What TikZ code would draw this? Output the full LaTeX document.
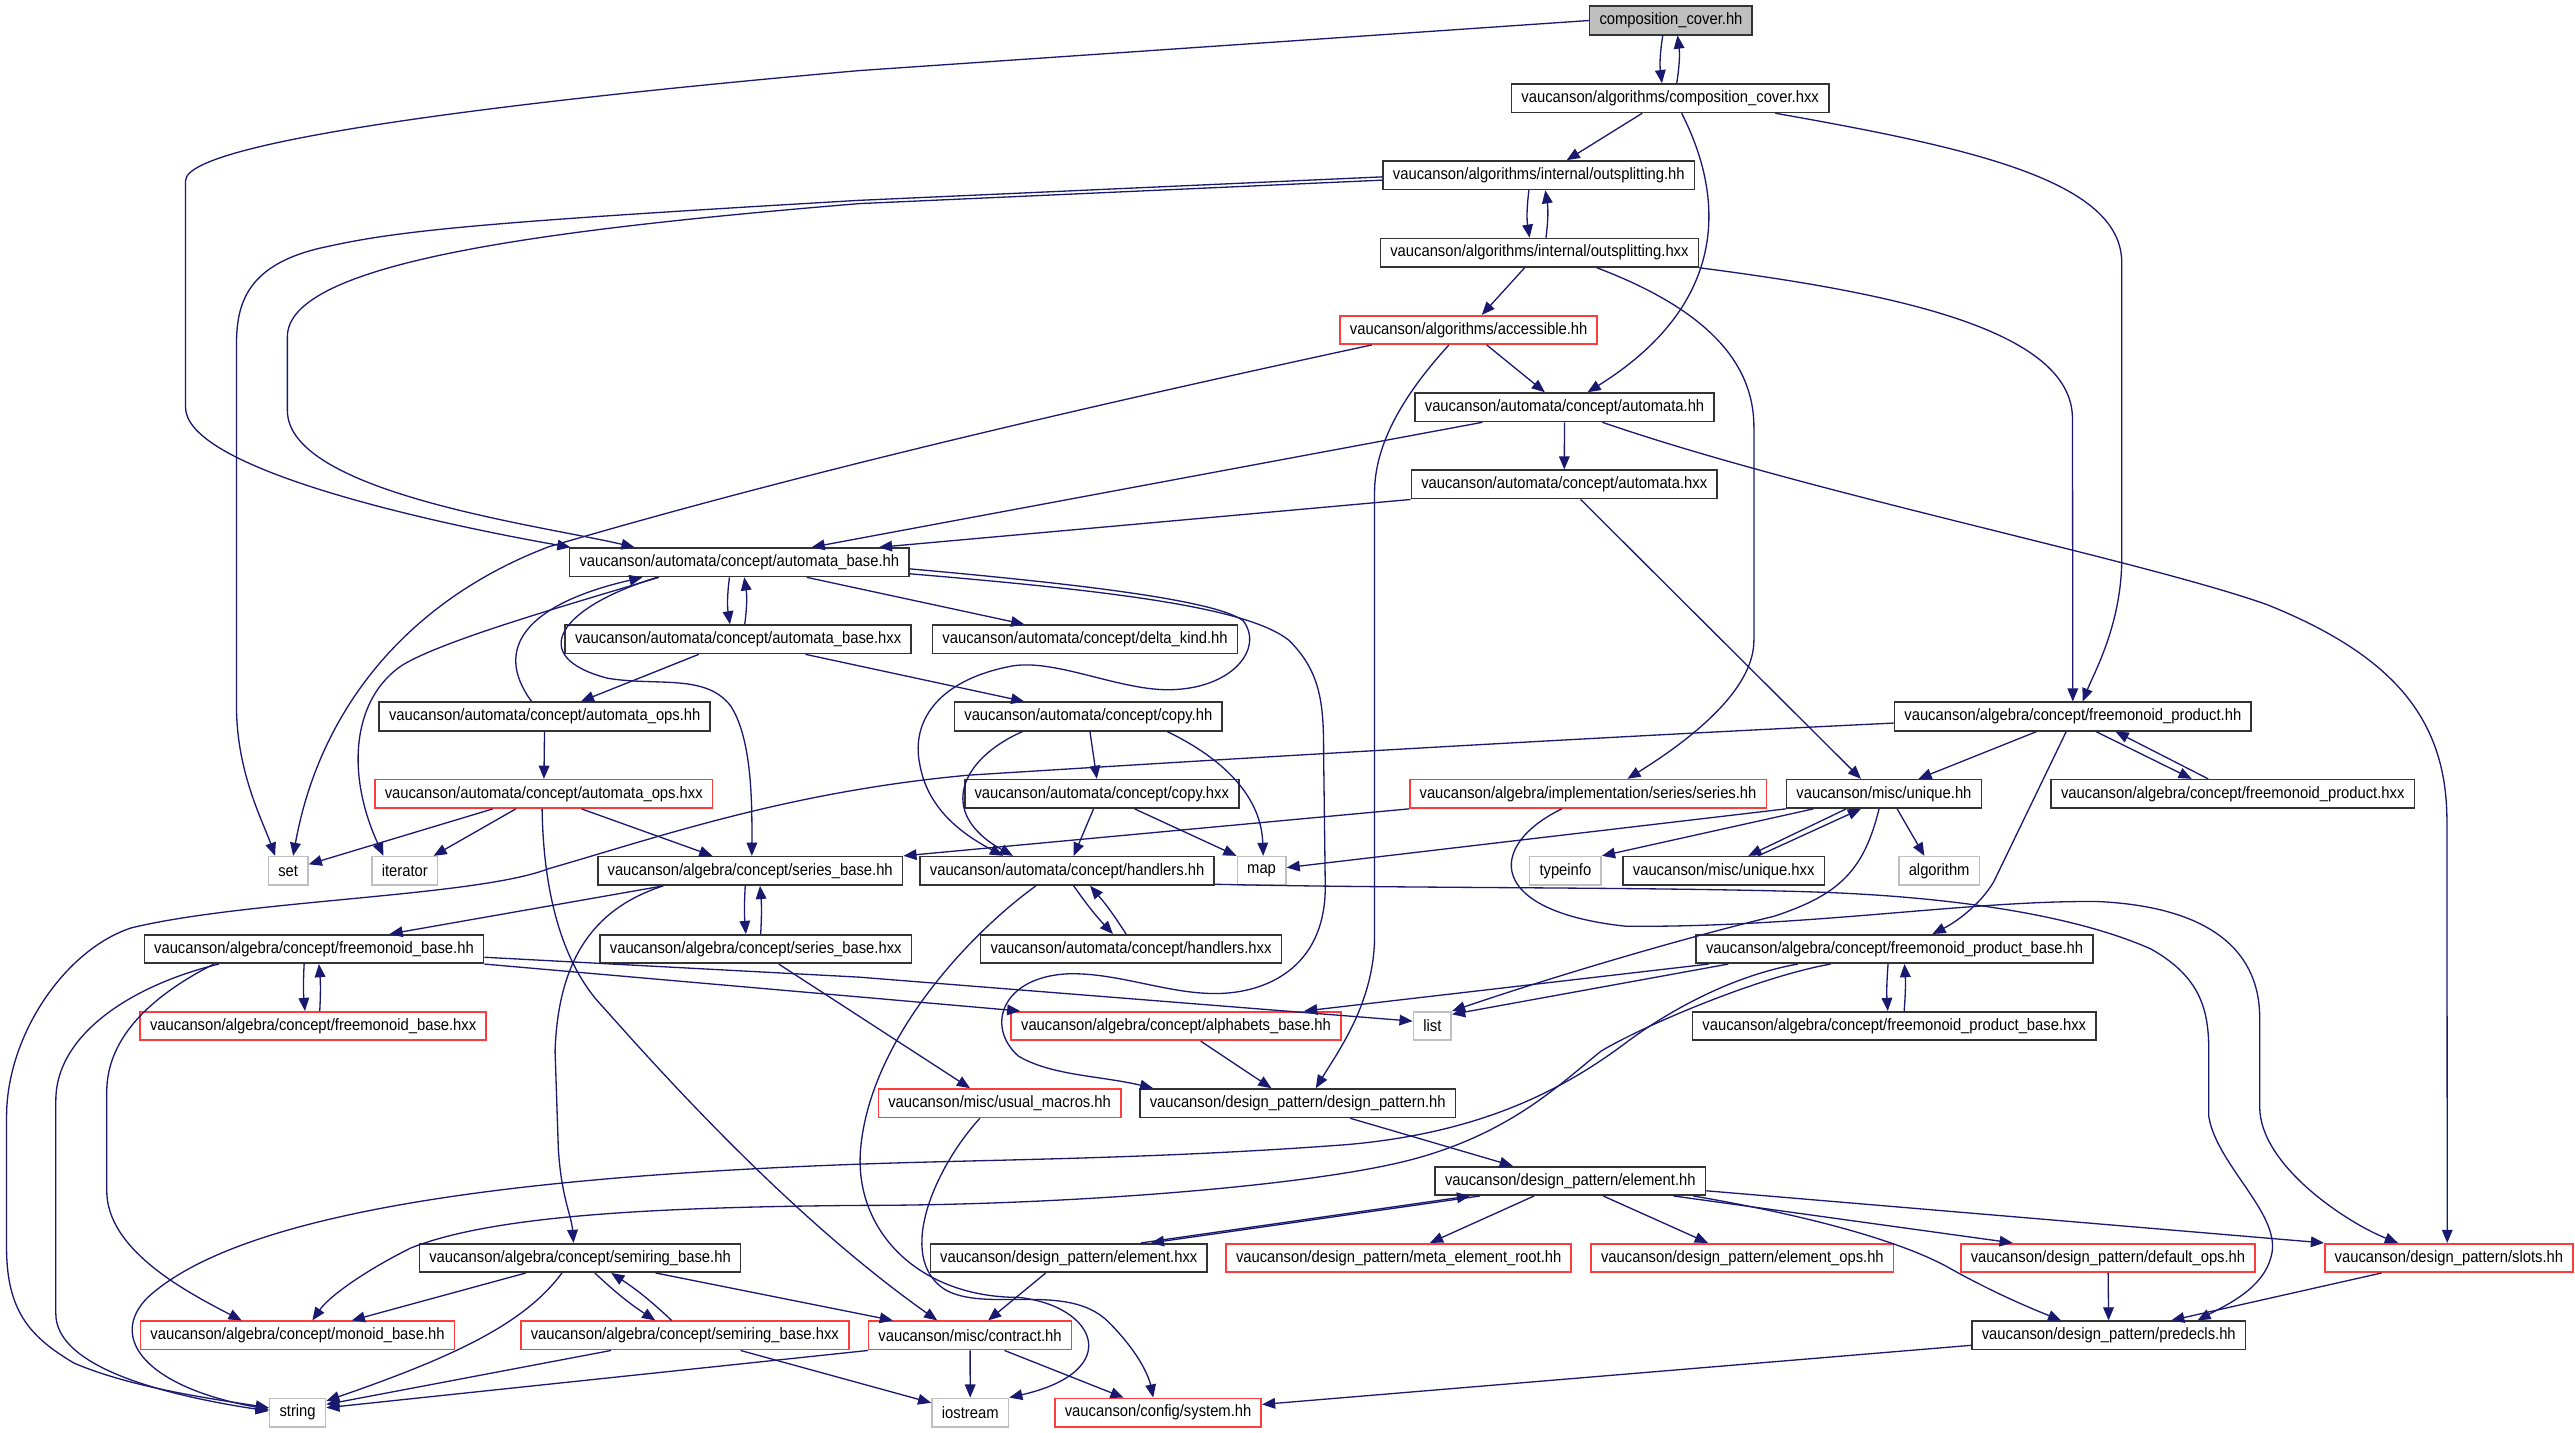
\documentclass[tikz,border=0pt]{standalone}
\usepackage{fontspec}
\usetikzlibrary{arrows.meta,graphs}
\newfontfamily\dotfont{Liberation Sans}[FakeStretch=0.9]
\definecolor{incblue}{RGB}{25,25,112}
\definecolor{nodered}{RGB}{255,60,60}
\definecolor{extgray}{RGB}{191,191,191}
\definecolor{rootgray}{RGB}{191,191,191}
\tikzset{
    >={Triangle[length=8pt,width=6.5pt]},
    hdrbox/.style={draw=black!80, line width=1pt, fill=white, font=\dotfont\fontsize{10}{12}\selectfont,
        inner xsep=6pt, inner ysep=0pt, minimum height=17.3pt},
    redbox/.style={hdrbox, draw=nodered},
    sysbox/.style={hdrbox, draw=extgray},
    rootbox/.style={hdrbox, fill=rootgray},
    inc/.style={->, draw=incblue, line width=0.8pt},
    pairbend/.style={bend right=8},
}

\begin{document}
\begin{tikzpicture}[x=1pt,y=-1pt]
    \useasboundingbox (0,0) rectangle (1568,872);

    \node[rootbox] (cover) at (1017.5,12.5) {composition\_cover.hh};
    \node[hdrbox] (coverx) at (1017,59.8) {vaucanson/algorithms/composition\_cover.hxx};
    \node[hdrbox] (outsplit) at (937,106.7) {vaucanson/algorithms/internal/outsplitting.hh};
    \node[hdrbox] (outsplitx) at (937.4,153.9) {vaucanson/algorithms/internal/outsplitting.hxx};
    \node[redbox] (access) at (894.3,200.9) {vaucanson/algorithms/accessible.hh};
    \node[hdrbox] (automata) at (952.7,248) {vaucanson/automata/concept/automata.hh};
    \node[hdrbox] (automatax) at (952.5,295) {vaucanson/automata/concept/automata.hxx};
    \node[hdrbox] (autobase) at (450.2,342.4) {vaucanson/automata/concept/automata\_base.hh};
    \node[hdrbox] (autobasex) at (449.5,389.3) {vaucanson/automata/concept/automata\_base.hxx};
    \node[hdrbox] (deltakind) at (660.7,389.3) {vaucanson/automata/concept/delta\_kind.hh};
    \node[hdrbox] (autoops) at (331.7,436.3) {vaucanson/automata/concept/automata\_ops.hh};
    \node[hdrbox] (copy) at (662.7,436.3) {vaucanson/automata/concept/copy.hh};
    \node[hdrbox] (fmprod) at (1262.2,436.3) {vaucanson/algebra/concept/freemonoid\_product.hh};
    \node[redbox] (autoopsx) at (331.1,483.4) {vaucanson/automata/concept/automata\_ops.hxx};
    \node[hdrbox] (copyx) at (670.9,483.4) {vaucanson/automata/concept/copy.hxx};
    \node[redbox] (series) at (967,483.4) {vaucanson/algebra/implementation/series/series.hh};
    \node[hdrbox] (unique) at (1147.2,483.4) {vaucanson/misc/unique.hh};
    \node[hdrbox] (fmprodx) at (1359.6,483.4) {vaucanson/algebra/concept/freemonoid\_product.hxx};
    \node[sysbox] (stdset) at (175.5,530.3) {set};
    \node[sysbox] (stditer) at (246.5,530.3) {iterator};
    \node[hdrbox] (seriesbase) at (456.8,530.3) {vaucanson/algebra/concept/series\_base.hh};
    \node[hdrbox] (handlers) at (649.8,530.3) {vaucanson/automata/concept/handlers.hh};
    \node[sysbox] (stdmap) at (768.2,530.3) {map};
    \node[sysbox] (stdtypeinfo) at (953.2,530.3) {typeinfo};
    \node[hdrbox] (uniquex) at (1049.6,530.3) {vaucanson/misc/unique.hxx};
    \node[sysbox] (stdalgo) at (1180.8,530.3) {algorithm};
    \node[hdrbox] (fmbase) at (191.2,577.9) {vaucanson/algebra/concept/freemonoid\_base.hh};
    \node[hdrbox] (seriesbasex) at (460.2,577.9) {vaucanson/algebra/concept/series\_base.hxx};
    \node[hdrbox] (handlersx) at (688.7,577.9) {vaucanson/automata/concept/handlers.hxx};
    \node[hdrbox] (fmprodbase) at (1153.7,577.9) {vaucanson/algebra/concept/freemonoid\_product\_base.hh};
    \node[redbox] (fmbasex) at (190.7,624.8) {vaucanson/algebra/concept/freemonoid\_base.hxx};
    \node[redbox] (alphabets) at (716.1,624.8) {vaucanson/algebra/concept/alphabets\_base.hh};
    \node[sysbox] (stdlist) at (872.2,624.8) {list};
    \node[hdrbox] (fmprodbasex) at (1153.5,624.8) {vaucanson/algebra/concept/freemonoid\_product\_base.hxx};
    \node[redbox] (macros) at (608.7,671.8) {vaucanson/misc/usual\_macros.hh};
    \node[hdrbox] (dpattern) at (790.2,671.8) {vaucanson/design\_pattern/design\_pattern.hh};
    \node[hdrbox] (element) at (956.2,719.1) {vaucanson/design\_pattern/element.hh};
    \node[hdrbox] (semiring) at (353.2,766) {vaucanson/algebra/concept/semiring\_base.hh};
    \node[hdrbox] (elementx) at (650.8,766) {vaucanson/design\_pattern/element.hxx};
    \node[redbox] (metaroot) at (851.7,766) {vaucanson/design\_pattern/meta\_element\_root.hh};
    \node[redbox] (elemops) at (1061,766) {vaucanson/design\_pattern/element\_ops.hh};
    \node[redbox] (defops) at (1283.6,766) {vaucanson/design\_pattern/default\_ops.hh};
    \node[redbox] (slots) at (1491.2,766) {vaucanson/design\_pattern/slots.hh};
    \node[redbox] (monoid) at (181.2,813.2) {vaucanson/algebra/concept/monoid\_base.hh};
    \node[redbox] (semiringx) at (417,813.2) {vaucanson/algebra/concept/semiring\_base.hxx};
    \node[redbox] (contract) at (590.7,813.2) {vaucanson/misc/contract.hh};
    \node[hdrbox] (predecls) at (1284.1,813.2) {vaucanson/design\_pattern/predecls.hh};
    \node[sysbox] (stdstring) at (181.2,860.2) {string};
    \node[sysbox] (stdiostream) at (590.8,860.2) {iostream};
    \node[redbox] (system) at (705.2,860.2) {vaucanson/config/system.hh};

    \graph[use existing nodes, edges=inc] {
        automata -> automatax;
        autoops -> autoopsx;
        contract -> stdiostream;
        defops -> predecls;
    };

    \draw[inc] ([xshift=-5pt]cover.south) to[pairbend] ([xshift=-5pt]coverx.north);
    \draw[inc] ([xshift=4pt]coverx.north) to[pairbend] ([xshift=4pt]cover.south);
    \draw[inc] (cover.west) -- (523,43) .. controls (330,60) and (113,85) .. (113,110) -- (113,248)
        .. controls (113,290) and (300,325) .. ([xshift=1pt]autobase.north west);

    \draw[inc] ([xshift=-17pt]coverx.south) -- ([xshift=17pt]outsplit.north);
    \draw[inc] ([xshift=7pt]coverx.south) .. controls (1055,130) and (1045,190) .. ([xshift=14pt]automata.north);
    \draw[inc] ([xshift=64pt]coverx.south) .. controls (1200,90) and (1292,110) .. (1292,160) -- (1292,340)
        .. controls (1292,380) and (1275,410) .. ([xshift=6pt]fmprod.north);

    \draw[inc] ([xshift=-6pt]outsplit.south) to[pairbend] ([xshift=-6pt]outsplitx.north);
    \draw[inc] ([xshift=4pt]outsplitx.north) to[pairbend] ([xshift=4pt]outsplit.south);
    \draw[inc] ([yshift=-1pt]outsplit.west) -- (523,122) .. controls (300,135) and (245,140) .. (200,150)
        .. controls (150,160) and (144,185) .. (144,210) -- (144,430)
        .. controls (144,470) and (160,500) .. ([xshift=-8pt]stdset.north);
    \draw[inc] ([yshift=-3pt]outsplit.west) -- (523,124) .. controls (330,140) and (175,160) .. (175,205) -- (175,250)
        .. controls (175,300) and (330,320) .. ([xshift=40pt]autobase.north west);

    \draw[inc] ([xshift=-9pt]outsplitx.south) -- ([xshift=8pt]access.north);
    \draw[inc] ([xshift=35pt]outsplitx.south) .. controls (1030,185) and (1068,215) .. (1068,260) -- (1068,390)
        .. controls (1068,420) and (1030,450) .. ([xshift=24pt]series.north);
    \draw[inc] (outsplitx.south east) .. controls (1150,178) and (1262,200) .. (1262,255) -- (fmprod.north);

    \draw[inc] ([xshift=11pt]access.south) -- ([xshift=-12pt]automata.north);
    \draw[inc] ([xshift=-59pt]access.south) .. controls (650,250) and (480,290) .. (334,333)
        .. controls (250,365) and (195,430) .. ([xshift=3pt]stdset.north);
    \draw[inc] ([xshift=-12pt]access.south) .. controls (855,240) and (837,270) .. (837,300) -- (837,570)
        .. controls (837,610) and (815,640) .. ([xshift=11pt]dpattern.north);

    \draw[inc] ([xshift=-50pt]automata.south) -- ([xshift=44pt]autobase.north);
    \draw[inc] ([xshift=23pt]automata.south) .. controls (1100,300) and (1300,340) .. (1380,368)
        .. controls (1460,400) and (1490,440) .. (1490,500) -- ([xshift=-1pt]slots.north);
    \draw[inc] (automatax.south west) -- ([xshift=85pt]autobase.north);
    \draw[inc] ([xshift=10pt]automatax.south) -- ([xshift=-14pt]unique.north);

    \draw[inc] ([xshift=-6pt]autobase.south) to[pairbend] ([xshift=-5pt]autobasex.north);
    \draw[inc] ([xshift=4pt]autobasex.north) to[pairbend] ([xshift=3pt]autobase.south);
    \draw[inc] ([xshift=41pt]autobase.south) -- ([xshift=-37pt]deltakind.north);
    \draw[inc] ([xshift=-49pt]autobase.south) .. controls (340,370) and (270,390) .. (245,405)
        .. controls (215,425) and (210,470) .. ([xshift=-13pt]stditer.north);
    \draw[inc] ([xshift=-50pt]autobase.south) .. controls (340,370) and (320,400) .. (370,413)
        .. controls (400,418) and (430,410) .. (445,430)
        .. controls (458,450) and (458,490) .. ([xshift=1pt]seriesbase.north);
    \draw[inc] ([yshift=-4pt]autobase.east) .. controls (650,355) and (740,365) .. (757,378)
        .. controls (770,395) and (750,420) .. (711,420) .. controls (680,420) and (640,400) .. (614,406)
        .. controls (570,415) and (555,440) .. (560,465)
        .. controls (565,495) and (590,510) .. ([xshift=-39pt]handlers.north);
    \draw[inc] ([yshift=-7pt]autobase.east) .. controls (680,360) and (760,370) .. (785,390)
        .. controls (805,410) and (806,430) .. (806,460) -- (807,540)
        .. controls (807,590) and (770,605) .. (740,605) .. controls (710,605) and (680,592) .. (650,593)
        .. controls (610,595) and (600,625) .. (620,643)
        .. controls (640,655) and (670,655) .. ([xshift=-88pt]dpattern.north);

    \draw[inc] ([xshift=-24pt]autobasex.south) -- ([xshift=22pt]autoops.north);
    \draw[inc] ([xshift=41pt]autobasex.south) -- ([xshift=-39pt]copy.north);
    \draw[inc] ([xshift=-8pt]autoops.north) .. controls (300,395) and (320,368) .. ([xshift=-59pt]autobase.south);

    \draw[inc] ([xshift=1pt]copy.south) -- ([xshift=-3pt]copyx.north);
    \draw[inc] ([xshift=48pt]copy.south) .. controls (745,462) and (768,485) .. ([xshift=1pt]stdmap.north);
    \draw[inc] ([xshift=-40pt]copy.south) .. controls (585,462) and (570,495) .. ([xshift=-33pt]handlers.north);
    \draw[inc] ([xshift=-5pt]copyx.south) -- ([xshift=4pt]handlers.north);
    \draw[inc] ([xshift=20pt]copyx.south) -- (stdmap.north west);

    \draw[inc] ([xshift=4pt]handlers.south) to[bend right=4] ([xshift=-11pt]handlersx.north);
    \draw[inc] ([xshift=-3pt]handlersx.north) to[bend right=4] ([xshift=14pt]handlers.south);
    \draw[inc] ([xshift=-19pt]handlers.south) .. controls (595,565) and (530,630) .. (524,700)
        .. controls (520,750) and (560,790) .. (620,790)
        .. controls (668,795) and (685,835) .. (stdiostream.north east);
    \draw[inc] ([yshift=1pt]handlers.south east) .. controls (850,541) and (1000,540) .. (1100,543)
        .. controls (1200,546) and (1270,560) .. (1310,578) .. controls (1340,595) and (1345,615) .. (1345,640)
        -- (1345,680) .. controls (1350,710) and (1390,740) .. (1383,765)
        .. controls (1378,785) and (1355,795) .. ([xshift=54pt]predecls.north);

    \draw[inc] ([xshift=-12pt]macros.south) .. controls (570,710) and (545,765) .. (575,785)
        .. controls (600,800) and (650,780) .. (675,805)
        .. controls (695,825) and (700,840) .. ([xshift=-3pt]system.north);

    \draw[inc] (unique.south west) -- ([yshift=2pt]stdmap.east);
    \draw[inc] ([xshift=-43pt]unique.south) -- (stdtypeinfo.north east);
    \draw[inc] ([xshift=-23pt]unique.south) -- ([xshift=15pt]uniquex.north);
    \draw[inc] ([xshift=21pt]uniquex.north) -- ([xshift=-14pt]unique.south);
    \draw[inc] ([xshift=8pt]unique.south) -- ([xshift=-9pt]stdalgo.north);
    \draw[inc] ([xshift=-3pt]unique.south) .. controls (1135,530) and (1120,545) .. (1080,558)
        .. controls (1010,575) and (930,600) .. (stdlist.north east);

    \draw[inc] ([xshift=-22pt]fmprod.south) -- ([xshift=21pt]unique.north);
    \draw[inc] ([xshift=14pt]fmprod.south) -- ([xshift=-25pt]fmprodx.north);
    \draw[inc] ([xshift=-15pt]fmprodx.north) -- ([xshift=26pt]fmprod.south);
    \draw[inc] ([xshift=-4pt]fmprod.south) -- (1214,537) .. controls (1205,552) and (1190,562) .. ([xshift=23pt]fmprodbase.north);
    \draw[inc] ([yshift=-4pt]fmprod.west) .. controls (950,450) and (750,462) .. (590,472)
        .. controls (480,482) and (400,510) .. (334,529) .. controls (290,546) and (150,548) .. (80,565)
        .. controls (40,578) and (4,630) .. (4,680) -- (4,760)
        .. controls (4,800) and (20,815) .. (45,830)
        .. controls (80,845) and (130,852) .. ([yshift=3pt]stdstring.west);

    \draw[inc] (series.south west) -- (seriesbase.north east);
    \draw[inc] ([xshift=-16pt]series.south) .. controls (905,515) and (905,555) .. (990,564)
        .. controls (1100,565) and (1200,548) .. (1278,549) .. controls (1340,552) and (1376,575) .. (1376,620)
        -- (1376,674) .. controls (1376,710) and (1430,745) .. ([xshift=-31pt]slots.north);

    \draw[inc] ([xshift=-4pt]fmprodbase.south) to[bend right=4] ([xshift=-4pt]fmprodbasex.north);
    \draw[inc] ([xshift=6pt]fmprodbasex.north) to[bend right=4] ([xshift=6pt]fmprodbase.south);
    \draw[inc] ([xshift=20pt]fmprodbase.south west) -- ([yshift=-2pt]stdlist.north east);
    \draw[inc] ([xshift=8pt]fmprodbase.south west) -- ([xshift=78pt]alphabets.north);
    \draw[inc] ([xshift=-59pt]fmprodbase.south) .. controls (1050,595) and (1010,620) .. (990,635)
        .. controls (950,665) and (900,690) .. (820,697) .. controls (700,706) and (600,706) .. (520,709)
        .. controls (330,716) and (150,735) .. (90,790)
        .. controls (65,815) and (90,845) .. ([yshift=2pt]stdstring.west);
    \draw[inc] ([xshift=-39pt]fmprodbase.south) .. controls (1070,595) and (1000,625) .. (975,640)
        .. controls (950,660) and (920,690) .. (860,706) .. controls (800,722) and (650,734) .. (524,734)
        .. controls (400,735) and (300,740) .. (250,760)
        .. controls (220,775) and (200,790) .. ([xshift=9pt]monoid.north);

    \draw[inc] ([xshift=-6pt]fmbase.south) to[bend right=4] ([xshift=-5pt]fmbasex.north);
    \draw[inc] ([xshift=4pt]fmbasex.north) to[bend right=4] ([xshift=3pt]fmbase.south);
    \draw[inc] ([xshift=-58pt]fmbase.south) .. controls (80,600) and (34,630) .. (34,670) -- (34,800)
        .. controls (34,830) and (90,848) .. ([yshift=1pt]stdstring.west);
    \draw[inc] ([xshift=-61pt]fmbase.south) .. controls (95,605) and (65,630) .. (65,665) -- (65,725)
        .. controls (65,760) and (110,785) .. ([xshift=-34pt]monoid.north);
    \draw[inc] ([yshift=-5pt]fmbase.east) -- (523,595) -- ([yshift=3pt]stdlist.west);
    \draw[inc] (fmbase.south east) -- ([xshift=6pt]alphabets.north west);

    \draw[inc] ([xshift=-53pt]seriesbase.south) -- ([xshift=46pt]fmbase.north);
    \draw[inc] ([xshift=-3pt]seriesbase.south) to[bend right=4] ([xshift=-6pt]seriesbasex.north);
    \draw[inc] ([xshift=3pt]seriesbasex.north) to[bend right=4] ([xshift=6pt]seriesbase.south);
    \draw[inc] ([xshift=-53pt]seriesbase.south) .. controls (365,552) and (340,580) .. (338,640) -- (340,700)
        .. controls (342,730) and (348,740) .. ([xshift=-4pt]semiring.north);
    \draw[inc] ([xshift=14pt]seriesbasex.south) -- ([xshift=-18pt]macros.north);

    \draw[inc] ([xshift=-31pt]autoopsx.south) -- ([yshift=4pt]stdset.east);
    \draw[inc] ([xshift=-17pt]autoopsx.south) -- ([xshift=-3pt]stditer.north east);
    \draw[inc] ([xshift=23pt]autoopsx.south) -- ([xshift=-23pt]seriesbase.north);
    \draw[inc] ([xshift=-1pt]autoopsx.south) .. controls (331,550) and (345,590) .. (367,613)
        .. controls (400,650) and (480,740) .. ([xshift=-20pt]contract.north);

    \draw[inc] ([xshift=15pt]alphabets.south) -- ([xshift=-16pt]dpattern.north);
    \draw[inc] ([xshift=32pt]dpattern.south) -- ([xshift=-35pt]element.north);

    \draw[inc] ([xshift=-55pt]element.south) -- ([xshift=50pt]elementx.north);
    \draw[inc] ([xshift=44pt]elementx.north) -- ([xshift=-61pt]element.south);
    \draw[inc] ([xshift=-22pt]element.south) -- ([xshift=19pt]metaroot.north);
    \draw[inc] ([xshift=20pt]element.south) -- ([xshift=-21pt]elemops.north);
    \draw[inc] ([xshift=-20pt]element.south east) -- ([xshift=-58pt]defops.north);
    \draw[inc] ([xshift=-8pt]element.south east) .. controls (1100,740) and (1155,755) .. (1185,771)
        .. controls (1215,788) and (1240,798) .. ([xshift=-29pt]predecls.north);
    \draw[inc] ([yshift=-6pt]element.east) -- (slots.north west);
    \draw[inc] ([xshift=-14pt]elementx.south) -- ([xshift=11pt]contract.north);

    \draw[inc] ([xshift=-33pt]semiring.south) -- ([xshift=33pt]monoid.north);
    \draw[inc] ([xshift=-11pt]semiring.south) .. controls (320,805) and (280,825) .. ([yshift=-2pt]stdstring.north east);
    \draw[inc] ([xshift=9pt]semiring.south) to[bend right=5] ([xshift=-18pt]semiringx.north);
    \draw[inc] ([xshift=-8pt]semiringx.north) to[bend right=5] ([xshift=19pt]semiring.south);
    \draw[inc] ([xshift=46pt]semiring.south) -- ([xshift=-47pt]contract.north);
    \draw[inc] ([xshift=-45pt]semiringx.south) -- ([yshift=5pt]stdstring.east);
    \draw[inc] ([xshift=34pt]semiringx.south) -- ([yshift=6pt]stdiostream.west);

    \draw[inc] (contract.south west) -- ([yshift=3pt]stdstring.east);
    \draw[inc] ([xshift=21pt]contract.south) -- ([xshift=-21pt]system.north);
    \draw[inc] ([yshift=-6pt]predecls.west) -- ([yshift=5pt]system.east);
    \draw[inc] ([xshift=-41pt]slots.south) -- ([xshift=38pt]predecls.north);
\end{tikzpicture}
\end{document}
